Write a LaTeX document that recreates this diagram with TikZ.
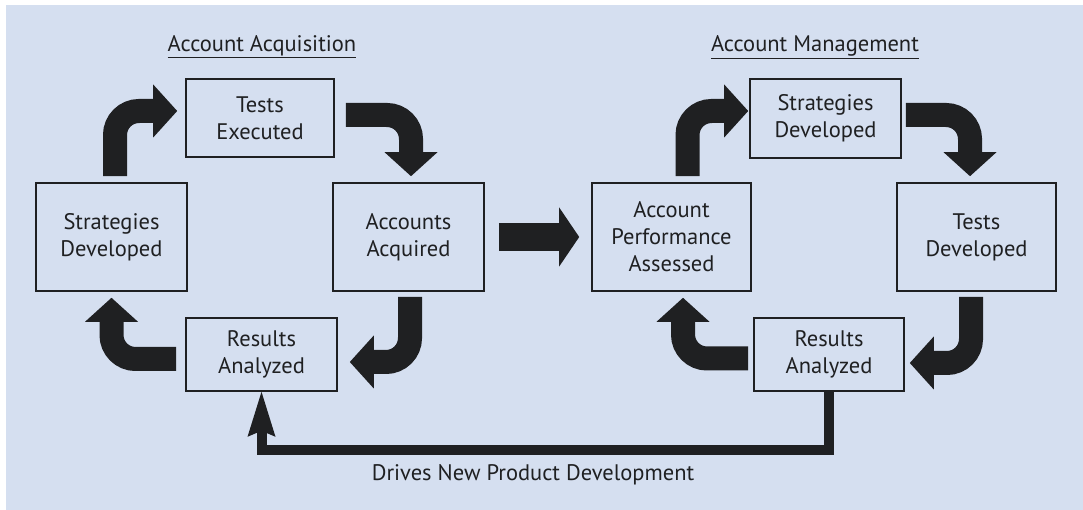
\documentclass[tikz,border=0pt]{standalone}
\usepackage{fontspec}
\setmainfont{PT Sans}
\usetikzlibrary{arrows.meta}
\definecolor{bgblue}{RGB}{213,223,240}
\definecolor{ink}{RGB}{31,32,34}
\begin{document}
\begin{tikzpicture}[x=1pt,y=1pt,
  box/.style={draw=ink,line width=1.6pt,inner sep=0pt,align=center,text=ink,font=\fontsize{22.5}{27}\selectfont},
  label/.style={text=ink,font=\fontsize{22.5}{27}\selectfont},
  bigarrow/.style={draw=ink,line width=24pt,rounded corners=24pt,-{Triangle[width=53pt,length=24pt,line width=0pt]}},
  feedback/.style={draw=ink,line width=10pt,-{Stealth[width=28pt,length=45pt,inset=6pt,line width=0pt]}}]
\useasboundingbox (0,0) rectangle (1083,510);
\fill[bgblue] (6,0) rectangle (1083,505);
\node[label] (acq) at (262,463) {\underline{Account Acquisition}};
\node[label] (mgmt) at (815,463) {\underline{Account Management}};
\node[box,minimum width=148pt,minimum height=78pt] (teL) at (260,392) {Tests\\Executed};
\node[box,minimum width=151pt,minimum height=108pt] (sdL) at (111.5,273) {Strategies\\Developed};
\node[box,minimum width=151pt,minimum height=108pt] (aaL) at (408.5,273) {Accounts\\Acquired};
\node[box,minimum width=151pt,minimum height=73pt] (raL) at (261.5,155.5) {Results\\Analyzed};
\node[box,minimum width=159pt,minimum height=108pt] (apR) at (671.5,273) {Account\\Performance\\Assessed};
\node[box,minimum width=151pt,minimum height=79pt] (sdR) at (825.5,391.5) {Strategies\\Developed};
\node[box,minimum width=159pt,minimum height=108pt] (tdR) at (976.5,273) {Tests\\Developed};
\node[box,minimum width=150pt,minimum height=73pt] (raR) at (829,155.5) {Results\\Analyzed};
\node[label] (drives) at (533,35) {Drives New Product Development};
\draw[bigarrow] ([xshift=3.5pt,yshift=6pt]sdL.north) |- ([xshift=-8pt,yshift=7pt]teL.west);
\draw[bigarrow] ([xshift=11pt,yshift=3pt]teL.east) -| ([xshift=2.5pt,yshift=6pt]aaL.north);
\draw[bigarrow] ([xshift=1.5pt,yshift=-5pt]aaL.south) |- ([xshift=12pt,yshift=-7.5pt]raL.east);
\draw[bigarrow] ([xshift=-9pt,yshift=-4.5pt]raL.west) -| ([yshift=-6pt]sdL.south);
\draw[draw=ink,line width=28pt,-{Triangle[width=59pt,length=20pt,line width=0pt]}] ([xshift=14pt]aaL.east) -- ([xshift=-12pt]apR.west);
\draw[bigarrow] ([xshift=16pt,yshift=6pt]apR.north) |- ([xshift=-1pt,yshift=7.5pt]sdR.west);
\draw[bigarrow] ([xshift=4pt,yshift=3.5pt]sdR.east) -| ([xshift=-6.5pt,yshift=6pt]tdR.north);
\draw[bigarrow] ([xshift=-5.5pt,yshift=-5pt]tdR.south) |- ([xshift=5pt,yshift=-8.5pt]raR.east);
\draw[bigarrow] ([xshift=-5pt,yshift=-4pt]raR.west) -| ([xshift=11.5pt,yshift=-6pt]apR.south);
\draw[feedback] (raR.south) -- ++(0,-58) -| (raL.south);
\end{tikzpicture}
\end{document}
